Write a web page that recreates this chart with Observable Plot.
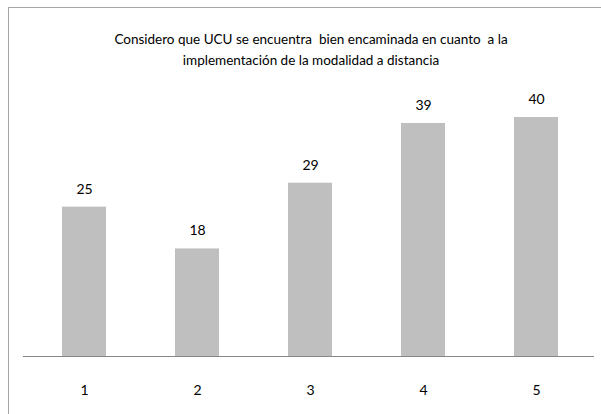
<!DOCTYPE html>
<html>
<head>
<meta charset="utf-8">
<script src="https://cdn.jsdelivr.net/npm/d3@7"></script>
<script src="https://cdn.jsdelivr.net/npm/@observablehq/plot@0.6"></script>
<style>
  html, body { margin: 0; padding: 0; background: #fff; }
  #wrap { position: relative; width: 601px; height: 414px; overflow: hidden; }
  #border { position: absolute; left: 8px; top: 7px; width: 700px; height: 500px;
            border-left: 1.5px solid #a6a6a6; border-top: 1.5px solid #a6a6a6; box-sizing: border-box; }
  #chart { position: absolute; left: 0; top: 0; }
</style>
</head>
<body>
<div id="wrap"><div id="border"></div><div id="chart"></div></div>
<script>
const categories = ["1", "2", "3", "4", "5"];
const values = [25, 18, 29, 39, 40];
const titleLine1 = "Considero que UCU se encuentra  bien encaminada en cuanto  a la";
const titleLine2 = "implementación de la modalidad a distancia";

const data = categories.map((c, i) => ({cat: c, value: values[i]}));
const font = "Lato, sans-serif";

const chart = Plot.plot({
  width: 601,
  height: 414,
  marginLeft: 23,
  marginRight: 7,
  marginTop: 117,
  marginBottom: 58,
  style: {fontFamily: font, fontSize: "14px", color: "#000", background: "transparent"},
  x: {domain: categories, paddingInner: 0.61, paddingOuter: 0.305, insetLeft: 4, label: null},
  y: {domain: [0, 40], axis: null},
  marks: [
    Plot.barY(data, {x: "cat", y: "value", fill: "#bfbfbf"}),
    Plot.ruleY([0], {stroke: "#868686", strokeWidth: 1.2}),
    Plot.text(data, {x: "cat", y: "value", text: d => String(d.value), dy: -18, fill: "#000", fontSize: 14}),
    Plot.axisX({tickSize: 0, tickPadding: 29, fontSize: 14, fill: "#000"}),
    Plot.text([titleLine1], {frameAnchor: "top", dx: 2, dy: -83, text: d => d, fontSize: 13.5, fill: "#000"}),
    Plot.text([titleLine2], {frameAnchor: "top", dx: 2, dy: -62, text: d => d, fontSize: 13.5, fill: "#000"})
  ]
});
document.getElementById("chart").appendChild(chart);
</script>
</body>
</html>
